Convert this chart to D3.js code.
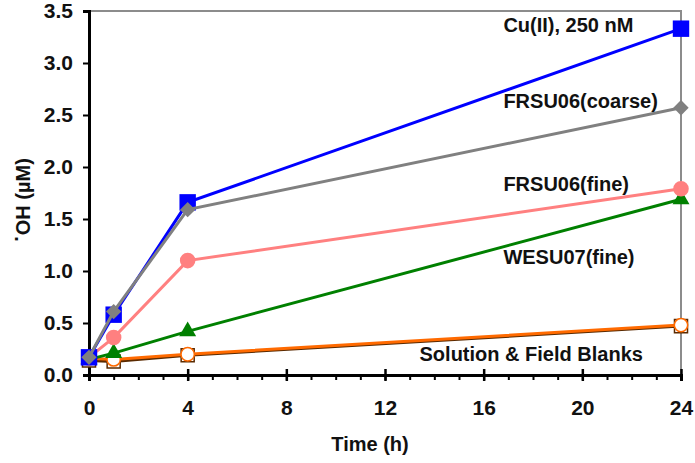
<!DOCTYPE html>
<html lang="en">
<head>
<meta charset="UTF-8">
<title>OH formation</title>
<script src="https://cdn.jsdelivr.net/npm/d3@7/dist/d3.min.js"></script>
<style>
  body { margin: 0; background: #fff; }
  text { font-family: "Liberation Sans", Arial, sans-serif; font-weight: bold; fill: #111; }
</style>
</head>
<body>
<svg id="chart" width="695" height="463"></svg>
<script>
// sampling times (h)
const times = [0, 1, 4, 24];
// OH concentrations (uM)
const cuValues = [0.17, 0.58, 1.66, 3.33];
const coarseValues = [0.17, 0.61, 1.59, 2.57];
const fineValues = [0.17, 0.36, 1.10, 1.79];
const wesuValues = [0.15, 0.21, 0.42, 1.69];
const solutionBlank = [0.14, 0.13, 0.19, 0.47];
const fieldBlank = [0.16, 0.15, 0.20, 0.48];

const xTicks = [0, 4, 8, 12, 16, 20, 24];
const yTicks = [0, 0.5, 1.0, 1.5, 2.0, 2.5, 3.0, 3.5];

const series = [
  { name: 'Solution blank', values: solutionBlank, color: '#5a2a00', fill: '#fff', shape: d3.symbolSquare, size: 170 },
  { name: 'Field blank', values: fieldBlank, color: '#ff6a00', fill: '#fff', shape: d3.symbolCircle, size: 140 },
  { name: 'WESU07(fine)', values: wesuValues, color: '#008000', fill: '#008000', shape: d3.symbolTriangle, size: 125 },
  { name: 'FRSU06(fine)', values: fineValues, color: '#ff8080', fill: '#ff8080', shape: d3.symbolCircle, size: 190 },
  { name: 'Cu(II), 250 nM', values: cuValues, color: '#0000ff', fill: '#0000ff', shape: d3.symbolSquare, size: 270 },
  { name: 'FRSU06(coarse)', values: coarseValues, color: '#808080', fill: '#808080', shape: d3.symbolDiamond2, size: 150 }
];

const labels = [
  { text: 'Cu(II), 250 nM', t: 16.8, v: 3.35 },
  { text: 'FRSU06(coarse)', t: 16.8, v: 2.62 },
  { text: 'FRSU06(fine)', t: 16.8, v: 1.82 },
  { text: 'WESU07(fine)', t: 16.8, v: 1.12 },
  { text: 'Solution & Field Blanks', t: 13.4, v: 0.19 }
];

const svg = d3.select('#chart');
const mLeft = 89, mRight = 681, mTop = 11, mBottom = 375;

const x = d3.scaleLinear().domain([0, 24]).range([mLeft, mRight]);
const y = d3.scaleLinear().domain([0, 3.5]).range([mBottom, mTop]);

// grey frame top and right
svg.append('path')
  .attr('d', `M${mLeft},${mTop}H${mRight}V${mBottom}`)
  .attr('fill', 'none')
  .attr('stroke', '#8c8c8c')
  .attr('stroke-width', 2);

// y axis
const yAxis = svg.append('g')
  .attr('transform', `translate(${mLeft},0)`)
  .call(d3.axisLeft(y).tickValues(yTicks).tickFormat(d3.format('.1f')).tickSize(6).tickPadding(10));
yAxis.select('.domain').attr('stroke', '#000').attr('stroke-width', 3);
yAxis.selectAll('.tick line').attr('stroke', '#000').attr('stroke-width', 2);
yAxis.selectAll('text').attr('font-size', 21).attr('fill', '#111');

// x axis: minor ticks every hour, major ticks cross the line
const xMinor = svg.append('g')
  .attr('transform', `translate(0,${mBottom})`)
  .call(d3.axisBottom(x).ticks(24).tickSize(5).tickFormat(''));
xMinor.select('.domain').remove();
xMinor.selectAll('.tick line').attr('stroke', '#000').attr('stroke-width', 2);

const xAxis = svg.append('g')
  .attr('transform', `translate(0,${mBottom})`)
  .call(d3.axisBottom(x).tickValues(xTicks).tickSize(6).tickPadding(19));
xAxis.select('.domain').attr('stroke', '#000').attr('stroke-width', 3);
xAxis.selectAll('.tick line').attr('stroke', '#000').attr('stroke-width', 2.5).attr('y1', -6);
xAxis.selectAll('text').attr('font-size', 21).attr('fill', '#111');

// lines and markers
const line = d3.line().x((d, i) => x(times[i])).y(d => y(d));

const groups = svg.selectAll('g.series')
  .data(series)
  .join('g')
  .attr('class', 'series');

groups.append('path')
  .attr('d', d => line(d.values))
  .attr('fill', 'none')
  .attr('stroke', d => d.color)
  .attr('stroke-width', 3);

groups.selectAll('path.mark')
  .data(d => d.values.map((v, i) => ({ v, t: times[i], s: d })))
  .join('path')
  .attr('class', 'mark')
  .attr('transform', d => `translate(${x(d.t)},${y(d.v)})`)
  .attr('d', d => d3.symbol().type(d.s.shape).size(d.s.size)())
  .attr('fill', d => d.s.fill)
  .attr('stroke', d => d.s.fill === '#fff' ? d.s.color : 'none')
  .attr('stroke-width', 1.5);

// series labels
svg.selectAll('text.lbl')
  .data(labels)
  .join('text')
  .attr('class', 'lbl')
  .attr('x', d => x(d.t))
  .attr('y', d => y(d.v))
  .attr('dominant-baseline', 'middle')
  .attr('font-size', 20)
  .text(d => d.text);

// axis titles
svg.append('text')
  .attr('x', 370)
  .attr('y', 451)
  .attr('text-anchor', 'middle')
  .attr('font-size', 20)
  .text('Time (h)');

const yt = svg.append('text')
  .attr('transform', `translate(30,200) rotate(-90)`)
  .attr('text-anchor', 'middle')
  .attr('font-size', 20);
yt.append('tspan').attr('dy', '-0.35em').text('·');
yt.append('tspan').attr('dy', '0.35em').text('OH (µM)');
</script>
</body>
</html>
